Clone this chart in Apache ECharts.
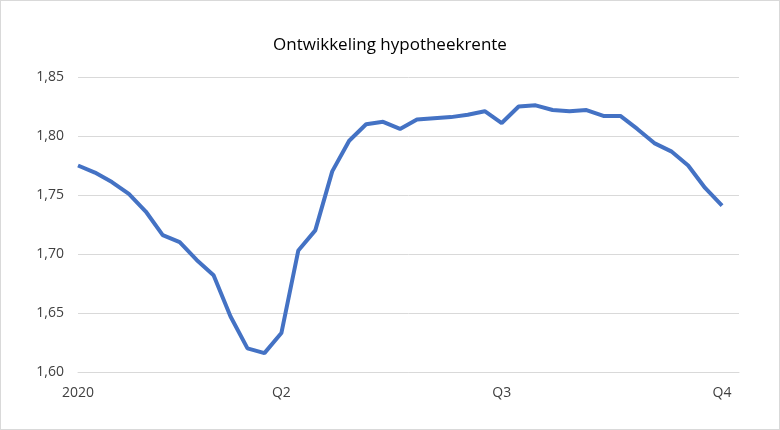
<!DOCTYPE html>
<html><head><meta charset="utf-8">
<script src="https://cdn.jsdelivr.net/npm/echarts@6/dist/echarts.min.js"></script>
<style>html,body{margin:0;padding:0;background:#fff}#c{width:780px;height:430px;box-sizing:border-box;border:1px solid #d9d9d9}</style>
</head><body><div id="c"></div>
<script>
const values = [1.775,1.769,1.761,1.751,1.736,1.716,1.710,1.695,1.682,1.647,1.620,1.616,1.633,1.703,1.720,1.770,1.796,1.810,1.812,1.806,1.814,1.815,1.816,1.818,1.821,1.811,1.825,1.826,1.822,1.821,1.822,1.817,1.817,1.806,1.794,1.787,1.775,1.756,1.741];
const tickLabels = {0:'2020',12:'Q2',25:'Q3',38:'Q4'};
const categories = values.map((v,i)=>tickLabels[i]||'').concat(['']);
const chart = echarts.init(document.getElementById('c'));
chart.setOption({
  animation:false,
  title:{text:'Ontwikkeling hypotheekrente',left:'center',top:31,textStyle:{fontFamily:'Open Sans',fontWeight:'normal',fontSize:17,color:'#000'}},
  grid:{left:77,right:40,top:76,bottom:57},
  xAxis:{type:'category',data:categories,boundaryGap:false,
    axisLine:{lineStyle:{color:'#d9d9d9'}},axisTick:{show:false},
    axisLabel:{interval:(i)=>!!tickLabels[i],color:'#404040',fontSize:14,fontFamily:'Open Sans',margin:14}},
  yAxis:{type:'value',min:1.6,max:1.85,interval:0.05,
    axisLine:{show:false},axisTick:{show:false},
    splitLine:{lineStyle:{color:'#d9d9d9'}},
    axisLabel:{color:'#404040',fontSize:14,fontFamily:'Open Sans',margin:14,formatter:v=>v.toFixed(2).replace('.',',')}},
  series:[{type:'line',data:values,showSymbol:false,lineStyle:{color:'#4472c4',width:4}}]
});
</script></body></html>
